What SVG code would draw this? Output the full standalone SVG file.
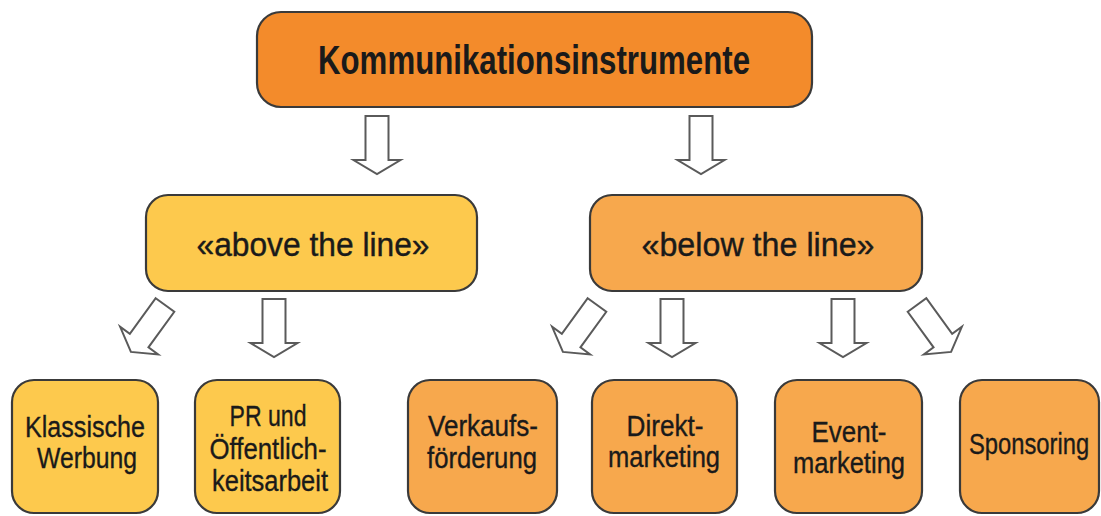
<svg xmlns="http://www.w3.org/2000/svg" width="1101" height="516" viewBox="0 0 1101 516">
<style>
  .box { stroke: #3a3a3a; stroke-width: 2.2; }
  .top { fill: #F38B2B; }
  .yel { fill: #FDC94D; }
  .org { fill: #F7A84D; }
  .arrow { fill: #ffffff; stroke: #5a5a5a; stroke-width: 2; stroke-linejoin: miter; }
  text { font-family: "Liberation Sans", Arial, sans-serif; fill: #1a1a1a; text-anchor: middle; }
  .t0 { font-size: 40px; font-weight: bold; }
  .t1 { font-size: 33px; stroke: #1a1a1a; stroke-width: 0.4; }
  .t2 { font-size: 29px; stroke: #1a1a1a; stroke-width: 0.35; }
</style>
<defs>
  <path id="arr" d="M -11.5 0 L 11.5 0 L 11.5 44 L 23.5 44 L 0 58 L -23.5 44 L -11.5 44 Z"/>
</defs>

<g id="connectors">
  <use href="#arr" class="arrow" transform="translate(377,116)"/>
  <use href="#arr" class="arrow" transform="translate(701,116)"/>
  <use href="#arr" class="arrow" transform="translate(165,305) rotate(36)"/>
  <use href="#arr" class="arrow" transform="translate(274,299)"/>
  <use href="#arr" class="arrow" transform="translate(597,305) rotate(36)"/>
  <use href="#arr" class="arrow" transform="translate(672,299)"/>
  <use href="#arr" class="arrow" transform="translate(843,299)"/>
  <use href="#arr" class="arrow" transform="translate(917,305) rotate(-36)"/>
</g>

<g id="node-kommunikationsinstrumente">
  <rect class="box top" x="257" y="12" width="555" height="95" rx="24"/>
  <text class="t0" x="534" y="74" textLength="432" lengthAdjust="spacingAndGlyphs">Kommunikationsinstrumente</text>
</g>

<g id="node-above">
  <rect class="box yel" x="146" y="195" width="331" height="96" rx="22"/>
  <text class="t1" x="313" y="256" textLength="233" lengthAdjust="spacingAndGlyphs">«above the line»</text>
</g>

<g id="node-below">
  <rect class="box org" x="590" y="195" width="332" height="96" rx="22"/>
  <text class="t1" x="758" y="256" textLength="233" lengthAdjust="spacingAndGlyphs">«below the line»</text>
</g>

<g id="node-klassische-werbung">
  <rect class="box yel" x="12" y="380" width="146" height="133" rx="22"/>
  <text class="t2" x="85" y="437" textLength="120" lengthAdjust="spacingAndGlyphs">Klassische</text>
  <text class="t2" x="87" y="468" textLength="100" lengthAdjust="spacingAndGlyphs">Werbung</text>
</g>

<g id="node-pr">
  <rect class="box yel" x="195" y="380" width="145" height="133" rx="22"/>
  <text class="t2" x="268" y="426" textLength="77" lengthAdjust="spacingAndGlyphs">PR und</text>
  <text class="t2" x="268" y="459" textLength="117" lengthAdjust="spacingAndGlyphs">Öffentlich-</text>
  <text class="t2" x="270" y="491" textLength="116" lengthAdjust="spacingAndGlyphs">keitsarbeit</text>
</g>

<g id="node-verkaufsfoerderung">
  <rect class="box org" x="408" y="380" width="149" height="133" rx="22"/>
  <text class="t2" x="483" y="436" textLength="110" lengthAdjust="spacingAndGlyphs">Verkaufs-</text>
  <text class="t2" x="482" y="468" textLength="110" lengthAdjust="spacingAndGlyphs">förderung</text>
</g>

<g id="node-direktmarketing">
  <rect class="box org" x="592" y="380" width="145" height="133" rx="22"/>
  <text class="t2" x="665" y="436" textLength="77" lengthAdjust="spacingAndGlyphs">Direkt-</text>
  <text class="t2" x="664" y="467" textLength="112" lengthAdjust="spacingAndGlyphs">marketing</text>
</g>

<g id="node-eventmarketing">
  <rect class="box org" x="775" y="380" width="147" height="133" rx="22"/>
  <text class="t2" x="849" y="442" textLength="75" lengthAdjust="spacingAndGlyphs">Event-</text>
  <text class="t2" x="849" y="473" textLength="112" lengthAdjust="spacingAndGlyphs">marketing</text>
</g>

<g id="node-sponsoring">
  <rect class="box org" x="960" y="380" width="139" height="133" rx="22"/>
  <text class="t2" x="0" y="0" transform="translate(1029,454) scale(0.82,1)">Sponsoring</text>
</g>
</svg>
